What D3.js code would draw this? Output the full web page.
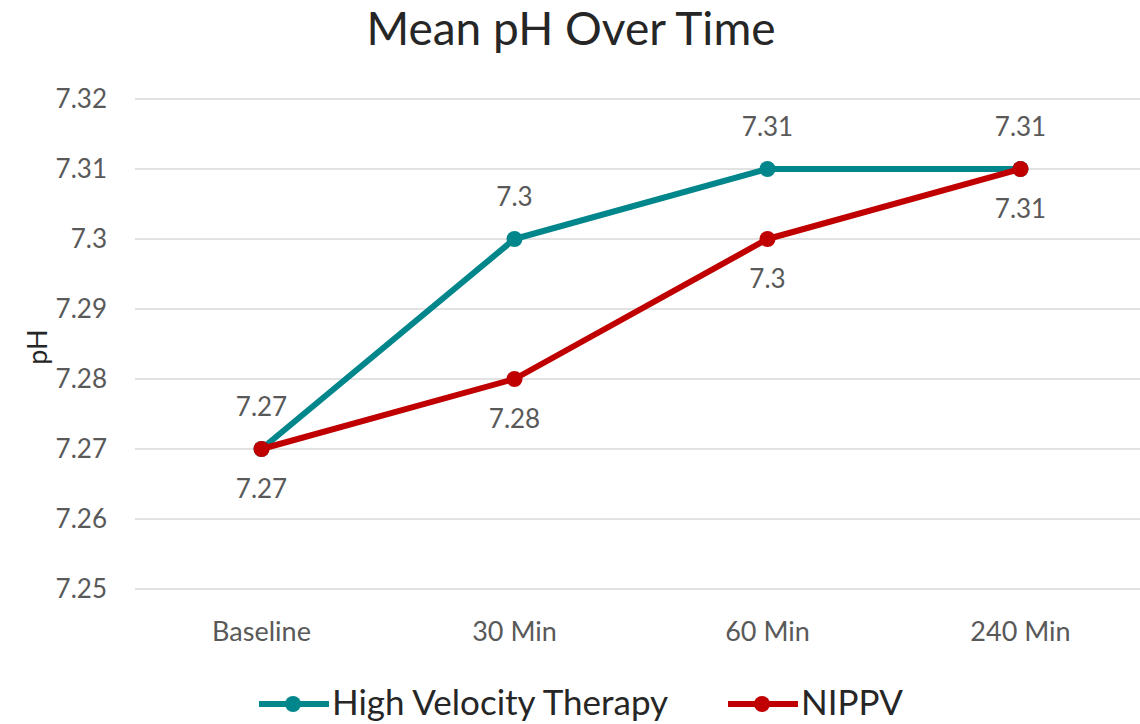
<!DOCTYPE html>
<html>
<head>
<meta charset="utf-8">
<script src="https://cdn.jsdelivr.net/npm/d3@7"></script>
<style>
  body { margin: 0; background: #fff; }
  svg { display: block; font-family: Lato, "Open Sans", sans-serif; }
</style>
</head>
<body>
<svg id="chart"></svg>
<script>
// data
var categories = ['Baseline', '30 Min', '60 Min', '240 Min'];
var hvtValues = [7.27, 7.30, 7.31, 7.31];
var nippvValues = [7.27, 7.28, 7.30, 7.31];
var yTicks = [7.25, 7.26, 7.27, 7.28, 7.29, 7.30, 7.31, 7.32];
var seriesNames = ['High Velocity Therapy', 'NIPPV'];
var seriesColors = ['#00868b', '#c00000'];

var width = 1140, height = 724;
var plot = { left: 135, right: 1147, top: 99, bottom: 589 };

var svg = d3.select('#chart')
	.attr('width', width)
	.attr('height', height);

var xScale = d3.scaleBand()
	.domain(categories)
	.range([plot.left, plot.right]);
var yScale = d3.scaleLinear()
	.domain([7.25, 7.32])
	.range([plot.bottom, plot.top]);

// gridlines
svg.append('g')
	.selectAll('line')
	.data(yTicks)
	.join('line')
	.attr('x1', plot.left)
	.attr('x2', plot.right)
	.attr('y1', function(d){ return yScale(d); })
	.attr('y2', function(d){ return yScale(d); })
	.style('stroke', '#d9d9d9')
	.style('stroke-width', 1.5);

// y axis labels
var axisY = d3.axisLeft(yScale)
	.tickValues(yTicks)
	.tickSize(0)
	.tickPadding(0)
	.tickFormat(function(d){ return +d.toFixed(2) + ''; });
var axisYG = svg.append('g')
	.attr('transform', 'translate(107,0)')
	.call(axisY);
axisYG.select('.domain').remove();
axisYG.selectAll('text')
	.style('font-family', 'Lato, "Open Sans", sans-serif')
	.style('font-size', '26px')
	.style('fill', '#595959');

// x axis labels
var axisX = d3.axisBottom(xScale).tickSize(0).tickPadding(0);
var axisXG = svg.append('g')
	.attr('transform', 'translate(0,622)')
	.call(axisX);
axisXG.select('.domain').remove();
axisXG.selectAll('text')
	.style('font-family', 'Lato, "Open Sans", sans-serif')
	.style('font-size', '27px')
	.style('fill', '#595959');

// title
svg.append('text')
	.attr('x', 571)
	.attr('y', 45)
	.attr('text-anchor', 'middle')
	.style('font-size', '46px')
	.style('fill', '#262626')
	.text('Mean pH Over Time');

// y axis title
svg.append('text')
	.attr('transform', 'translate(47,347) rotate(-90)')
	.attr('text-anchor', 'middle')
	.style('font-size', '27px')
	.style('fill', '#262626')
	.text('pH');

var line = d3.line()
	.x(function(d, i){ return xScale(categories[i]) + xScale.bandwidth() / 2; })
	.y(function(d){ return yScale(d); });

var allSeries = [hvtValues, nippvValues];
var labelOffset = [-33, 49];

allSeries.forEach(function(vals, s){
	var g = svg.append('g');
	g.append('path')
		.datum(vals)
		.attr('d', line)
		.style('fill', 'none')
		.style('stroke', seriesColors[s])
		.style('stroke-width', 6)
		.style('stroke-linejoin', 'round');
	g.selectAll('circle')
		.data(vals)
		.join('circle')
		.attr('cx', function(d, i){ return xScale(categories[i]) + xScale.bandwidth() / 2; })
		.attr('cy', function(d){ return yScale(d); })
		.attr('r', 8)
		.style('fill', seriesColors[s]);
});

// data labels drawn after the lines
allSeries.forEach(function(vals, s){
	svg.append('g')
		.selectAll('text')
		.data(vals)
		.join('text')
		.attr('x', function(d, i){ return xScale(categories[i]) + xScale.bandwidth() / 2; })
		.attr('y', function(d){ return yScale(d) + labelOffset[s]; })
		.attr('text-anchor', 'middle')
		.style('font-size', '26px')
		.style('fill', '#595959')
		.text(function(d){ return +d.toFixed(2) + ''; });
});

// legend
var legendX = [259, 728];
var legend = svg.append('g');
seriesNames.forEach(function(name, s){
	var lg = legend.append('g').attr('transform', 'translate(' + legendX[s] + ',704)');
	lg.append('line')
		.attr('x1', 0).attr('x2', 70)
		.style('stroke', seriesColors[s])
		.style('stroke-width', 6);
	lg.append('circle')
		.attr('cx', 34).attr('r', 8)
		.style('fill', seriesColors[s]);
	lg.append('text')
		.attr('x', 73)
		.attr('y', 11)
		.style('font-size', '35px')
		.style('fill', '#262626')
		.text(name);
});
</script>
</body>
</html>
